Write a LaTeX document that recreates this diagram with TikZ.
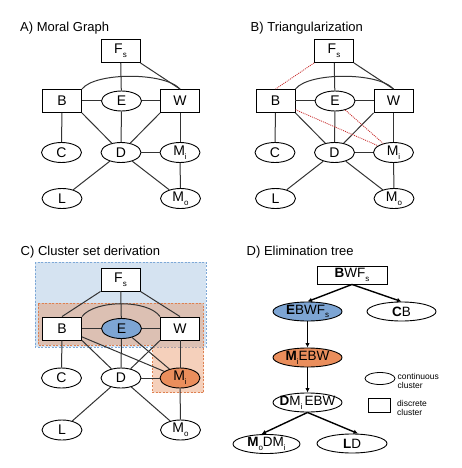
\documentclass[tikz,border=0pt]{standalone}
\usepackage{fontspec}
\setmainfont{Liberation Sans}
\usetikzlibrary{arrows.meta,shapes.geometric}
\definecolor{bgblue}{RGB}{213,227,241}
\definecolor{bdblue}{RGB}{125,168,215}
\definecolor{orfill}{RGB}{232,145,94}
\definecolor{ordraw}{RGB}{222,128,80}
\definecolor{eblue}{RGB}{125,165,212}
\definecolor{morange}{RGB}{234,142,92}
\definecolor{reddot}{RGB}{200,45,45}
\newcommand\sbs[1]{\raisebox{-0.28em}{\fontsize{8}{8}\selectfont #1}}
\newcommand\zb[1]{\makebox[0pt]{#1}}
% #1 prefix, #2 dx, #3 yF, #4 yB, #5 yC, #6 yL
\newcommand\mkgraph[6]{%
  \node[box] (#1F) at (120.5+#2,#3) {F\sbs{s}};
  \node[box] (#1B) at (62+#2,#4) {B};
  \node[ell,#1Ef] (#1E) at (121.5+#2,#4) {E};
  \node[box] (#1W) at (180+#2,#4) {W};
  \node[ell] (#1C) at (61.5+#2,#5) {C};
  \node[ell] (#1D) at (121+#2,#5) {D};
  \node[ell,#1Mf] (#1M) at (180+#2,#5) {M\sbs{i}};
  \node[ell] (#1L) at (62+#2,#6) {L};
  \node[ell] (#1O) at (180.5+#2,#6) {M\sbs{o}};
  \draw[edge] (#1F) -- (#1E);
  \draw[edge] (#1F.south east) -- (#1W.north);
  \draw[edge] (#1B) -- (#1E);
  \draw[edge] (#1E) -- (#1W);
  \draw[edge] (#1B) -- (#1C);
  \draw[edge] (#1B.south east) -- (#1D);
  \draw[edge] (#1E) -- (#1D);
  \draw[edge] (#1W.south west) -- (#1D);
  \draw[edge] (#1W) -- (#1M);
  \draw[edge] (#1D) -- (#1M);
  \draw[edge] (#1D) -- (#1L);
  \draw[edge] (#1D) -- (#1O);
  \draw[edge] (#1M) -- (#1O);
}
\begin{document}
\begin{tikzpicture}[x=1pt,y=-1pt,
  box/.style={draw=black,line width=0.9pt,fill=white,rectangle,minimum width=39pt,minimum height=23pt,inner sep=0pt,font=\fontsize{14}{14}\selectfont},
  ell/.style={draw=black,line width=0.9pt,fill=white,ellipse,minimum width=40pt,minimum height=20pt,inner sep=0pt,font=\fontsize{14}{14}\selectfont},
  edge/.style={draw=black!80,line width=1pt},
  rdot/.style={draw=reddot,line width=0.8pt,dash pattern=on 1pt off 1pt},
  aEf/.style={}, bEf/.style={}, cEf/.style={fill=eblue},
  aMf/.style={}, bMf/.style={}, cMf/.style={fill=morange},
  title/.style={anchor=base west,inner sep=0pt,font=\fontsize{13}{13}\selectfont},
  tbox/.style={draw=black,line width=0.9pt,fill=white,rectangle,minimum width=70pt,minimum height=18pt,inner sep=0pt,font=\fontsize{13.5}{13.5}\selectfont},
  tell/.style={draw=black,line width=0.9pt,fill=white,ellipse,minimum width=69pt,minimum height=19pt,inner sep=0pt,font=\fontsize{13.5}{13.5}\selectfont},
  tarr/.style={line width=1.4pt,-{Latex[length=4.5pt,width=4.5pt]}},
  legtxt/.style={anchor=west,align=left,inner sep=0pt,font=\fontsize{8.5}{9.5}\selectfont}]
\useasboundingbox[fill=white] (0,0) rectangle (461,468);

% titles
\node[title] (tA) at (20,31.5) {A) Moral Graph};
\node[title] (tB) at (250.5,31.5) {B) Triangularization};
\node[title] (tC) at (20.5,255) {C) Cluster set derivation};
\node[title] (tD) at (246.5,255) {D) Elimination tree};

% Panel A
\mkgraph{a}{0}{51}{101}{152.5}{198.5}
\draw[edge] (aB.north east) .. controls (95,72) and (165,72) .. (aW.north);

% Panel B
\mkgraph{b}{213.5}{51}{101}{152.5}{198.5}
\draw[edge] (bB.north east) .. controls (308.5,72) and (378.5,72) .. (bW.north);
\draw[rdot] (bF.south west) -- (bB.north);
\draw[rdot] (bB) -- (bM);
\draw[rdot] (bE) -- (bM);

% Panel C backgrounds
\fill[bgblue] (35,262) rectangle (206,347);
\draw[bdblue,line width=0.7pt,dash pattern=on 2pt off 1.5pt] (35,262) rectangle (206,347);
\fill[orfill,opacity=0.42] (38,303) -- (203.5,303) -- (203.5,392.5) -- (152.5,392.5) -- (152.5,345) -- (38,345) -- cycle;
\draw[ordraw,line width=0.7pt,dash pattern=on 2pt off 1.5pt] (38,303) -- (203.5,303) -- (203.5,392.5) -- (152.5,392.5) -- (152.5,345) -- (38,345) -- cycle;

% Panel C
\mkgraph{c}{0}{279.5}{328.5}{378}{430}
\draw[edge] (cB.north east) .. controls (95,299.5) and (148,299.5) .. (cW.north west);
\draw[edge] (cF.south west) -- (cB.north);
\draw[edge] (cB) -- (cM);
\draw[edge] (cE) -- (cM);

% Panel D
\node[tbox] (dBWF) at (352,275) {\zb{\textbf{B}WF\sbs{s}}};
\node[tell,fill=eblue] (dEBWF) at (307.5,311.5) {\zb{\textbf{E}BWF\sbs{s}}};
\node[tell] (dCB) at (401.5,311.5) {\zb{\textbf{C}B}};
\node[tell,fill=morange] (dMEBW) at (307.5,357.5) {\zb{\textbf{M}\sbs{i}EBW}};
\node[tell] (dDMEBW) at (307.5,402.5) {\zb{\textbf{D}M\sbs{i}\,EBW}};
\node[tell,minimum width=67pt] (dMODM) at (266.5,444) {\zb{\textbf{M}\sbs{o}DM\sbs{i}}};
\node[tell,minimum width=70pt] (dLD) at (352,443.5) {\zb{\textbf{L}D}};
\draw[tarr] (dBWF.south) -- (dEBWF.north);
\draw[tarr] (dBWF.south) -- (dCB.north);
\draw[tarr] (dEBWF) -- (dMEBW);
\draw[tarr] (dMEBW) -- (dDMEBW);
\draw[tarr] (dDMEBW.south) -- ([xshift=-5pt]dMODM.north);
\draw[tarr] (dDMEBW.south) -- ([xshift=6pt]dLD.north);

% legend
\node[draw=black,line width=0.8pt,ellipse,minimum width=30pt,minimum height=12pt,inner sep=0pt] (lgE) at (380,378.5) {};
\node[legtxt] (lgEt) at (397.5,381) {continuous\\cluster};
\node[draw=black,line width=0.8pt,rectangle,minimum width=22pt,minimum height=14pt,inner sep=0pt] (lgR) at (379,405.5) {};
\node[legtxt] (lgRt) at (397,408) {discrete\\cluster};
\end{tikzpicture}
\end{document}
